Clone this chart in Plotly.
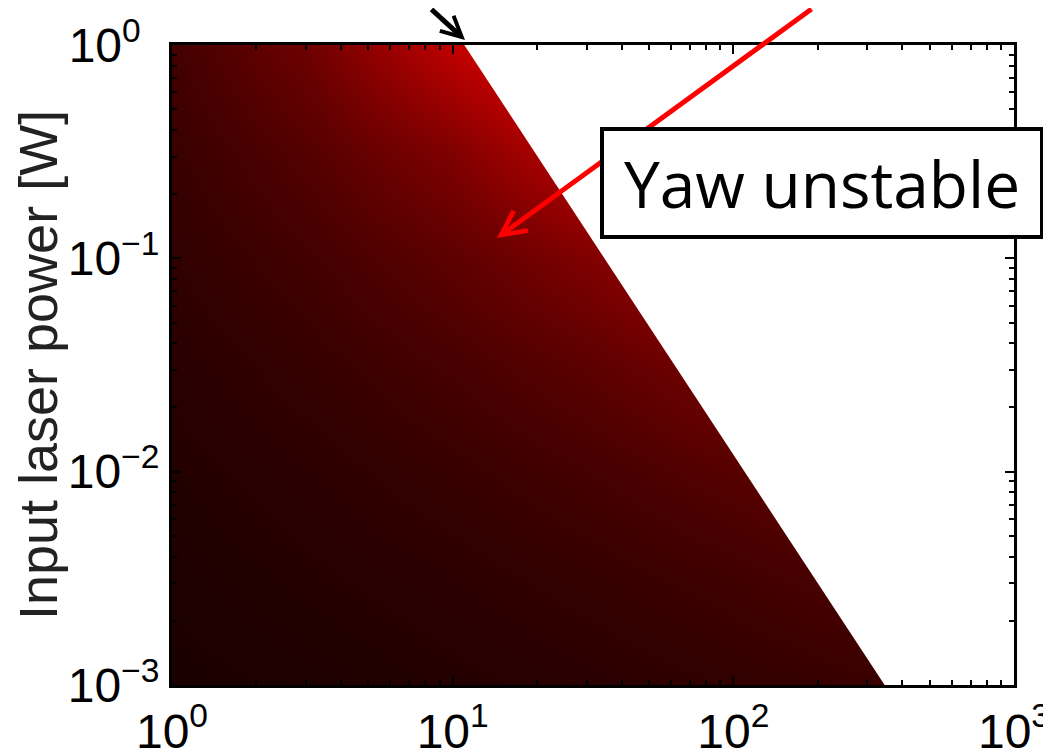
import plotly.graph_objects as go

# log10 grid of the colour field (cell centres)
log_x_grid = [0.0, 0.5, 1.0, 1.5, 2.0, 2.5, 3.0]
log_y_grid = [-3.0, -2.5, -2.0, -1.5, -1.0, -0.5, 0.0]
# red intensity (0-255), rows follow log_y_grid
red_level = [
    [26, 30, 36, 42, 49, 57, 67],
    [30, 37, 44, 53, 64, 77, 93],
    [35, 44, 55, 69, 86, 107, 134],
    [41, 54, 71, 92, 121, 158, 206],
    [48, 67, 93, 129, 179, 248, 255],
    [56, 85, 128, 194, 255, 255, 255],
    [66, 112, 192, 255, 255, 255, 255],
]
# stability boundary (frequency, power)
boundary_x = [11.0, 346.0]
boundary_y = [1.0, 0.001]

x_ticks = [1, 10, 100, 1000]
x_ticktext = ["10<sup>0</sup>", "10<sup>1</sup>", "10<sup>2</sup>", "10<sup>3</sup>"]
y_ticks = [0.001, 0.01, 0.1, 1]
y_ticktext = ["10<sup>−3</sup>", "10<sup>−2</sup>", "10<sup>−1</sup>",
              "10<sup>0\u00a0\u00a0</sup>"]

minor_x = [k * 10 ** d for d in range(3) for k in range(2, 10)]
minor_y = [k * 10.0 ** d for d in range(-3, 0) for k in range(2, 10)]

fig = go.Figure()
fig.add_trace(go.Heatmap(
    x=[10 ** u for u in log_x_grid],
    y=[10 ** v for v in log_y_grid],
    z=red_level,
    zmin=0, zmax=255,
    colorscale=[[0, "rgb(0,0,0)"], [1, "rgb(255,0,0)"]],
    zsmooth="best",
    showscale=False,
    hoverinfo="skip",
))
fig.add_trace(go.Scatter(
    x=[boundary_x[0], boundary_x[1], 5000, 5000],
    y=[boundary_y[0], boundary_y[1], boundary_y[1], boundary_y[0]],
    fill="toself", fillcolor="white", mode="lines",
    line=dict(width=0, color="white"), showlegend=False, hoverinfo="skip",
))

font_family = "Liberation Sans Narrow, Liberation Sans, Arial"
tick_font = dict(family=font_family, size=48, color="black")
axis_common = dict(
    showline=True, linecolor="black", linewidth=3, mirror="allticks",
    ticks="inside", ticklen=9, tickwidth=2, tickcolor="black",
    showgrid=False, zeroline=False, tickfont=tick_font, automargin=False,
)

fig.update_xaxes(type="log", range=[0, 3], tickmode="array", tickvals=x_ticks,
                 ticktext=x_ticktext, ticklabelstandoff=2,
                 minor=dict(tickmode="array", tickvals=minor_x, ticks="inside",
                            ticklen=5, tickwidth=2, tickcolor="black", showgrid=False),
                 **axis_common)
fig.update_yaxes(type="log", range=[-3, 0], tickmode="array", tickvals=y_ticks,
                 ticktext=y_ticktext, ticklabelstandoff=0,
                 minor=dict(tickmode="array", tickvals=minor_y, ticks="inside",
                            ticklen=5, tickwidth=2, tickcolor="black", showgrid=False),
                 title=dict(text="Input laser power [W]",
                            font=dict(family=font_family, size=54, color="#222222"),
                            standoff=16),
                 **axis_common)

W_PLOT = 842
H_PLOT = 640


def px_to_paper(px, py):
    return (px - 172) / W_PLOT, (685 - py) / H_PLOT


# red arrow into the unstable region
rx, ry = px_to_paper(497, 238)
fig.add_annotation(x=rx, y=ry, xref="paper", yref="paper", ax=316, ay=-250,
                   axref="pixel", ayref="pixel", showarrow=True, arrowhead=5,
                   arrowsize=0.95, arrowwidth=5, arrowcolor="red", text="")
# black arrow at the top
bx, by = px_to_paper(465, 40)
fig.add_annotation(x=bx, y=by, xref="paper", yref="paper", ax=-35, ay=-50,
                   axref="pixel", ayref="pixel", showarrow=True, arrowhead=5,
                   arrowsize=0.8, arrowwidth=5, arrowcolor="black", text="")
# green arrow fragment at the left edge
gx, gy = px_to_paper(11, 60)
fig.add_annotation(x=gx, y=gy, xref="paper", yref="paper", ax=-40, ay=0,
                   showarrow=True, arrowhead=5, arrowsize=0.8, arrowwidth=5,
                   arrowcolor="#22ee22", text="")
# text box
tx, ty = px_to_paper(822, 183)
fig.add_annotation(x=tx, y=ty, xref="paper", yref="paper", text="Yaw unstable",
                   xanchor="center", yanchor="middle",
                   showarrow=False, font=dict(family="Open Sans", size=64, color="black"),
                   width=436, height=104,
                   bgcolor="white", bordercolor="black", borderwidth=4, borderpad=0)

fig.update_layout(
    width=1051, height=754,
    margin=dict(l=164, r=45, t=37, b=77, autoexpand=False),
    paper_bgcolor="white", plot_bgcolor="white",
    showlegend=False,
)

fig.write_html("out.html")
